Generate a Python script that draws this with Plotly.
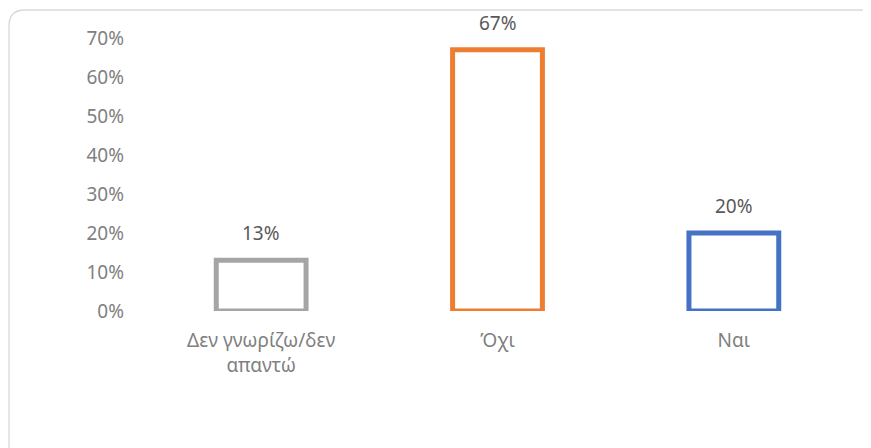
import plotly.graph_objects as go

categories = ["Δεν γνωρίζω/δεν<br>απαντώ", "Όχι", "Ναι"]
values = [13, 67, 20]
labels = ["13%", "67%", "20%"]
colors = ["#A5A5A5", "#ED7D31", "#4472C4"]
tick_vals = [0, 10, 20, 30, 40, 50, 60, 70]
tick_text = ["0%", "10%", "20%", "30%", "40%", "50%", "60%", "70%"]

OFF = 8  # page body margin
W, H = 871 - OFF, 448 - OFF
L, R, T, B = 143 - OFF, 19, 38 - OFF, 137
pw, ph = W - L - R, H - T - B

def px(x):
    return (x - OFF - L) / pw

def py(y):
    return (H - B - (y - OFF)) / ph

fig = go.Figure()
fig.add_trace(go.Bar(
    x=categories, y=values,
    marker=dict(color="rgba(255,255,255,0)", line=dict(color=colors, width=5)),
    width=0.38,
    cliponaxis=False,
))
for c, v, t in zip(categories, values, labels):
    fig.add_annotation(x=c, y=v, text=t, showarrow=False, yanchor="bottom",
                       yshift=12, font=dict(color="#595959", size=19, family="Noto Sans"))

# rounded chart border
x0, y0, x1, y1, r = 9, 10, 877, 480, 16
path = (
    f"M {px(x0)},{py(y1)} L {px(x0)},{py(y0 + r)} "
    f"Q {px(x0)},{py(y0)} {px(x0 + r)},{py(y0)} "
    f"L {px(x1 - r)},{py(y0)} Q {px(x1)},{py(y0)} {px(x1)},{py(y0 + r)} "
    f"L {px(x1)},{py(y1)}"
)
fig.add_shape(type="path", path=path, xref="paper", yref="paper",
              line=dict(color="#D9D9D9", width=1.3), layer="below")

fig.update_layout(
    width=W, height=H,
    margin=dict(l=L, r=R, t=T, b=B),
    paper_bgcolor="white", plot_bgcolor="white",
    showlegend=False,
    font=dict(family="Noto Sans", size=19, color="#808080"),
    xaxis=dict(showgrid=False, showline=False, ticks="", ticklabelstandoff=16,
               tickfont=dict(size=19, color="#808080")),
    yaxis=dict(range=[0, 70], tickvals=tick_vals, ticktext=tick_text, showgrid=False,
               zeroline=False, showline=False, ticks="", ticklen=0, ticklabelstandoff=18,
               tickfont=dict(size=19, color="#808080")),
)
fig.write_html("out.html")
